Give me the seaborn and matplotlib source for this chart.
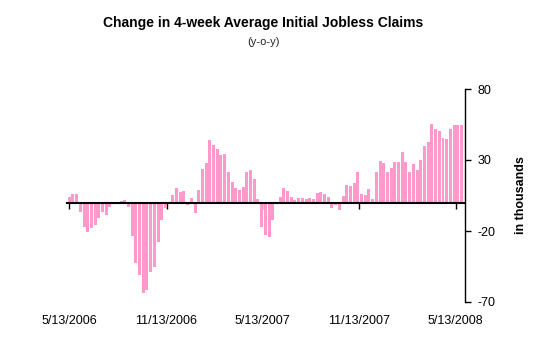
import matplotlib
matplotlib.use("Agg")
import matplotlib.pyplot as plt
import seaborn as sns
import pandas as pd

# ---- data ----
start_week = "2006-05-13"
n_weeks = 107
weeks = pd.date_range(start_week, periods=n_weeks, freq="7D")
week_labels = [d.strftime("%m/%d/%Y") for d in weeks]

change_yoy = [
    3.8, 6, 6, -6.3, -17, -20.4, -17.6, -15.7, -10.6, -6.3,
    -8.7, -2.8, 0, 0, 1.2, 1.7, -2.8, -23.3, -42.8, -51,
    -64, -61.3, -49, -45, -27.5, -12.6, -4, 0.5, 5.3, 10.3,
    7.7, 8.2, -1.5, 3.2, -7, 8.9, 23.6, 28, 44, 40.6,
    37.7, 33.7, 34.2, 21.5, 14.7, 10, 8.9, 11, 21.6, 23,
    16.6, 2.4, -17.5, -22.5, -24, -12.5, -0.5, 4, 10, 8.3,
    4, 1.8, 3, 3, 2.3, 3, 2.3, 6.5, 7.2, 6,
    3.7, -3.6, -1.7, -5.2, 4.6, 12.6, 11.7, 14, 21.5, 6,
    5.1, 9.3, 2.3, 21.5, 29.3, 27.8, 21.8, 24.1, 28.6, 28.6,
    35.6, 28.6, 21.5, 27, 23, 30, 40, 42.7, 55.3, 51.6,
    50.4, 45.5, 44.8, 51.6, 54.7, 54.7, 54.7,
]

tick_dates = ["2006-05-13", "2006-11-13", "2007-05-13", "2007-11-13", "2008-05-13"]
tick_labels = ["5/13/2006", "11/13/2006", "5/13/2007", "11/13/2007", "5/13/2008"]
y_ticks = [80, 30, -20, -70]

title = "Change in 4-week Average Initial Jobless Claims"
subtitle = "(y-o-y)"
y_label = "in thousands"

# ---- style ----
sns.set_style("white")
plt.rcParams["font.family"] = ["Liberation Sans", "DejaVu Sans"]
plt.rcParams["text.color"] = "black"
plt.rcParams["xtick.color"] = "black"
plt.rcParams["ytick.color"] = "black"
plt.rcParams["axes.labelcolor"] = "black"

fig = plt.figure(figsize=(5.44, 3.53), dpi=100)
ax = fig.add_axes([67.2 / 544, 51 / 353, (465 - 67.2) / 544, (302 - 89) / 353])

df = pd.DataFrame({"week": week_labels, "change": change_yoy})
sns.barplot(data=df, x="week", y="change", color="#FF99CC", saturation=1,
            width=0.8, ax=ax, order=week_labels, linewidth=0)

ax.set_xlim(-0.55, 106.95)
ax.set_ylim(-70, 80)

# spines
ax.spines["top"].set_visible(False)
ax.spines["left"].set_visible(False)
ax.spines["right"].set_visible(True)
ax.spines["right"].set_linewidth(1.0)
ax.spines["bottom"].set_position(("data", 0))
ax.spines["bottom"].set_linewidth(1.5)
for s in ["right", "bottom"]:
    ax.spines[s].set_color("black")

# x ticks at dates (week offsets)
start = pd.Timestamp(start_week)
tick_pos = [(pd.Timestamp(d) - start).days / 7 for d in tick_dates]
ax.set_xticks(tick_pos)
ax.tick_params(axis="x", direction="out", length=4, width=1, color="black",
               labelbottom=False, bottom=True)
sec = ax.secondary_xaxis(0)
sec.set_xticks(tick_pos)
sec.set_xticklabels(tick_labels, fontsize=9, color="black")
sec.tick_params(length=0, pad=9)
sec.spines["bottom"].set_visible(False)
ax.set_xlabel("")

# y axis on right
ax.yaxis.tick_right()
ax.yaxis.set_label_position("right")
ax.set_yticks(y_ticks)
ax.set_yticklabels([str(v) for v in y_ticks], fontsize=9, color="black")
ax.tick_params(axis="y", direction="out", length=4, width=1, color="black",
               right=True, left=False, pad=5)
ax.set_ylabel(y_label, fontsize=9, fontweight="bold", rotation=90, labelpad=14,
              color="black")

fig.text(263 / 544, 1 - 23 / 353, title, ha="center", va="center",
         fontsize=10, fontweight="bold", color="black")
fig.text(263 / 544, 1 - 42 / 353, subtitle, ha="center", va="center",
         fontsize=8, color="#222222")

fig.savefig("out.png", dpi=100)
